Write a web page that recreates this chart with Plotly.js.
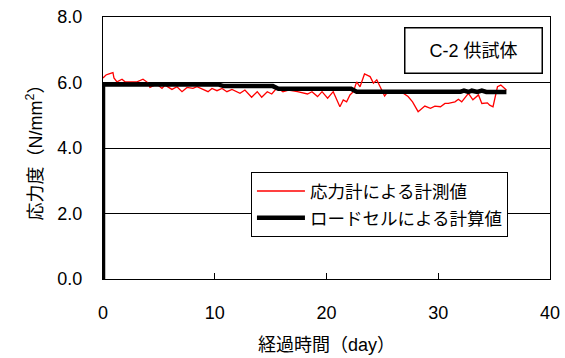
<!DOCTYPE html>
<html>
<head>
<meta charset="utf-8">
<script src="https://cdn.plot.ly/plotly-3.0.1.min.js"></script>
<style>
html,body{margin:0;padding:0;background:#fff;}
#chart{width:565px;height:358px;}
</style>
</head>
<body>
<div id="chart"></div>
<script>
// Series 1: stress gauge measurement (red)
var redDays = [0.0, 0.27, 0.54, 0.89, 0.98, 1.25, 1.70, 1.97, 2.5, 3.04, 3.58, 4.03, 4.2, 4.83, 5.28, 5.55, 6.17, 6.62, 7.07, 7.52, 8.05, 8.41, 8.95, 9.40, 9.75, 10.2, 10.65, 11.09, 11.54, 12.26, 12.7, 13.3, 13.8, 14.2, 14.7, 15.1, 15.4, 15.7, 16.1, 16.6, 17.4, 18.3, 18.7, 19.2, 19.6, 20.1, 20.6, 21.2, 21.5, 21.8, 22.1, 22.4, 22.7, 23.0, 23.4, 23.9, 24.2, 24.5, 24.8, 25.2, 25.5, 26.0, 26.3, 26.8, 27.3, 27.7, 28.2, 28.5, 28.8, 29.3, 29.7, 30.2, 30.6, 30.9, 31.5, 31.8, 32.1, 32.7, 33.1, 33.6, 33.9, 34.4, 34.6, 34.9, 35.3, 35.6, 35.9, 36.1];
var redValues = [6.14, 6.23, 6.26, 6.30, 6.14, 6.02, 6.10, 6.02, 6.02, 6.02, 6.10, 5.99, 5.85, 5.95, 5.82, 5.92, 5.79, 5.87, 5.72, 5.85, 5.82, 5.87, 5.79, 5.72, 5.82, 5.75, 5.82, 5.72, 5.79, 5.67, 5.77, 5.55, 5.72, 5.55, 5.72, 5.65, 5.77, 5.82, 5.72, 5.77, 5.72, 5.65, 5.72, 5.57, 5.72, 5.52, 5.72, 5.26, 5.47, 5.41, 5.62, 5.72, 6.02, 5.87, 6.26, 6.18, 5.98, 6.08, 5.87, 5.59, 5.72, 5.67, 5.69, 5.69, 5.57, 5.41, 5.11, 5.21, 5.28, 5.21, 5.28, 5.26, 5.36, 5.36, 5.41, 5.49, 5.41, 5.67, 5.47, 5.62, 5.36, 5.38, 5.31, 5.26, 5.87, 5.92, 5.82, 5.77];

// Series 2: load cell calculation (black)
var blackDays = [0, 0, 10.3, 10.8, 15.2, 15.7, 22.2, 22.7, 32.0, 32.3, 32.7, 33.0, 33.5, 33.9, 34.3, 36.1];
var blackValues = [0, 5.94, 5.94, 5.89, 5.89, 5.81, 5.81, 5.72, 5.72, 5.75, 5.71, 5.75, 5.71, 5.75, 5.71, 5.71];

var seriesNames = ['応力計による計測値', 'ロードセルによる計算値'];
var xTitle = '経過時間（day）';
var yTitle = '応力度（N/mm<sup>2</sup>）';
var boxLabel = 'C-2 供試体';

var FONT = 'Liberation Sans, Arial, Noto Sans CJK JP, sans-serif';

var traces = [
  {x: redDays, y: redValues, type: 'scatter', mode: 'lines', name: seriesNames[0],
   line: {color: '#ff0000', width: 1.3}, legendgroup: 'a'},
  {x: blackDays, y: blackValues, type: 'scatter', mode: 'lines', name: seriesNames[1],
   line: {color: '#000000', width: 4.5}, legendgroup: 'b'}
];

var layout = {
  width: 565, height: 358,
  margin: {l: 103, r: 15, t: 17, b: 79},
  paper_bgcolor: '#fff', plot_bgcolor: '#fff',
  font: {family: FONT, size: 17, color: '#000'},
  showlegend: true,
  legend: {
    x: 0.331, y: 0.408, xanchor: 'left', yanchor: 'top',
    bgcolor: '#fff', bordercolor: '#000', borderwidth: 1,
    font: {family: FONT, size: 17.5, color: '#000'},
    tracegroupgap: 1, traceorder: 'grouped', itemwidth: 48
  },
  xaxis: {
    range: [0, 40], dtick: 10, tick0: 0,
    showgrid: false, zeroline: false,
    showline: true, linecolor: '#000', linewidth: 1, mirror: true,
    ticks: 'inside', ticklen: 6, tickcolor: '#000',
    ticklabelstandoff: 17,
    tickfont: {family: FONT, size: 18},
    title: {text: xTitle, font: {family: FONT, size: 18}, standoff: 16}
  },
  yaxis: {
    range: [0, 8], dtick: 2, tick0: 0, tickformat: '.1f',
    showgrid: true, gridcolor: '#000', gridwidth: 1,
    zeroline: false,
    showline: true, linecolor: '#000', linewidth: 1, mirror: true,
    ticks: '', ticklabelstandoff: 16,
    tickfont: {family: FONT, size: 18},
    title: {text: yTitle, font: {family: FONT, size: 18}, standoff: 10}
  },
  annotations: [{
    text: boxLabel, xref: 'paper', yref: 'paper',
    x: (473 - 103) / 447, y: (279 - 50) / 262,
    xanchor: 'center', yanchor: 'middle', showarrow: false,
    font: {family: FONT, size: 18, color: '#000'},
    bordercolor: '#000', borderwidth: 1.5, borderpad: 10, bgcolor: '#fff',
    width: 116, height: 24
  }]
};

Plotly.newPlot('chart', traces, layout, {displayModeBar: false, staticPlot: true});
</script>
</body>
</html>
